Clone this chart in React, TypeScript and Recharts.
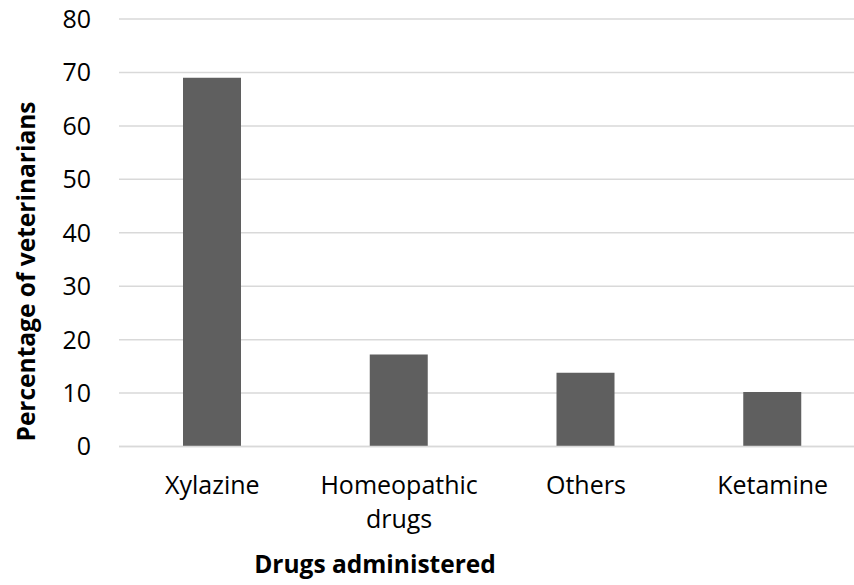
import { BarChart, Bar, XAxis, YAxis, CartesianGrid } from 'recharts';

const CATEGORIES = ['Xylazine', 'Homeopathic drugs', 'Others', 'Ketamine'];
const PERCENTAGES = [69.0, 17.2, 13.8, 10.2];
const Y_TICKS = [0, 10, 20, 30, 40, 50, 60, 70, 80];
// how the category labels wrap under the axis
const TICK_LINES: Record<string, string[]> = {
  'Homeopathic drugs': ['Homeopathic', 'drugs'],
};

const FONT = '"Open Sans", sans-serif';

const data = CATEGORIES.map((name, i) => ({ name, value: PERCENTAGES[i] }));

function CategoryTick({ x, y, payload }: any) {
  const lines = TICK_LINES[payload.value] ?? [payload.value];
  return (
    <text x={x} y={494} textAnchor="middle" fontFamily={FONT} fontSize={25} fill="#000">
      {lines.map((line, i) => (
        <tspan key={line} x={x} dy={i === 0 ? 0 : 34}>
          {line}
        </tspan>
      ))}
    </text>
  );
}

export default function App() {
  return (
    <div style={{ position: 'absolute', left: 0, top: 0, width: 854, height: 585, overflow: 'hidden', background: '#fff' }}>
      <BarChart
        width={880}
        height={585}
        data={data}
        margin={{ top: 19, right: 14, bottom: 108.5, left: 0 }}
        barCategoryGap={0}
      >
        <CartesianGrid vertical={false} stroke="#d9d9d9" strokeWidth={1.5} />
        <XAxis
          dataKey="name"
          height={30}
          tickLine={false}
          axisLine={{ stroke: '#d9d9d9', strokeWidth: 1.5 }}
          tickSize={0}
          interval={0}
          tick={<CategoryTick />}
          label={{
            content: () => (
              <text x={375} y={573} textAnchor="middle" fontFamily={FONT} fontWeight="bold" fontSize={24.5} fill="#000">
                Drugs administered
              </text>
            ),
          }}
        />
        <YAxis
          width={119}
          domain={[0, 80]}
          ticks={Y_TICKS}
          tickLine={false}
          axisLine={false}
          tickSize={0}
          tickMargin={28}
          tick={{ fontFamily: FONT, fontSize: 25, fill: '#000' }}
          label={{
            content: () => (
              <text
                x={25}
                y={271.5}
                transform="rotate(-90 25 271.5)"
                textAnchor="middle"
                dominantBaseline="central"
                fontFamily={FONT}
                fontWeight="bold"
                fontSize={24.5}
                fill="#000"
              >
                Percentage of veterinarians
              </text>
            ),
          }}
        />
        <Bar dataKey="value" fill="#5f5f5f" barSize={58} isAnimationActive={false} />
      </BarChart>
    </div>
  );
}
